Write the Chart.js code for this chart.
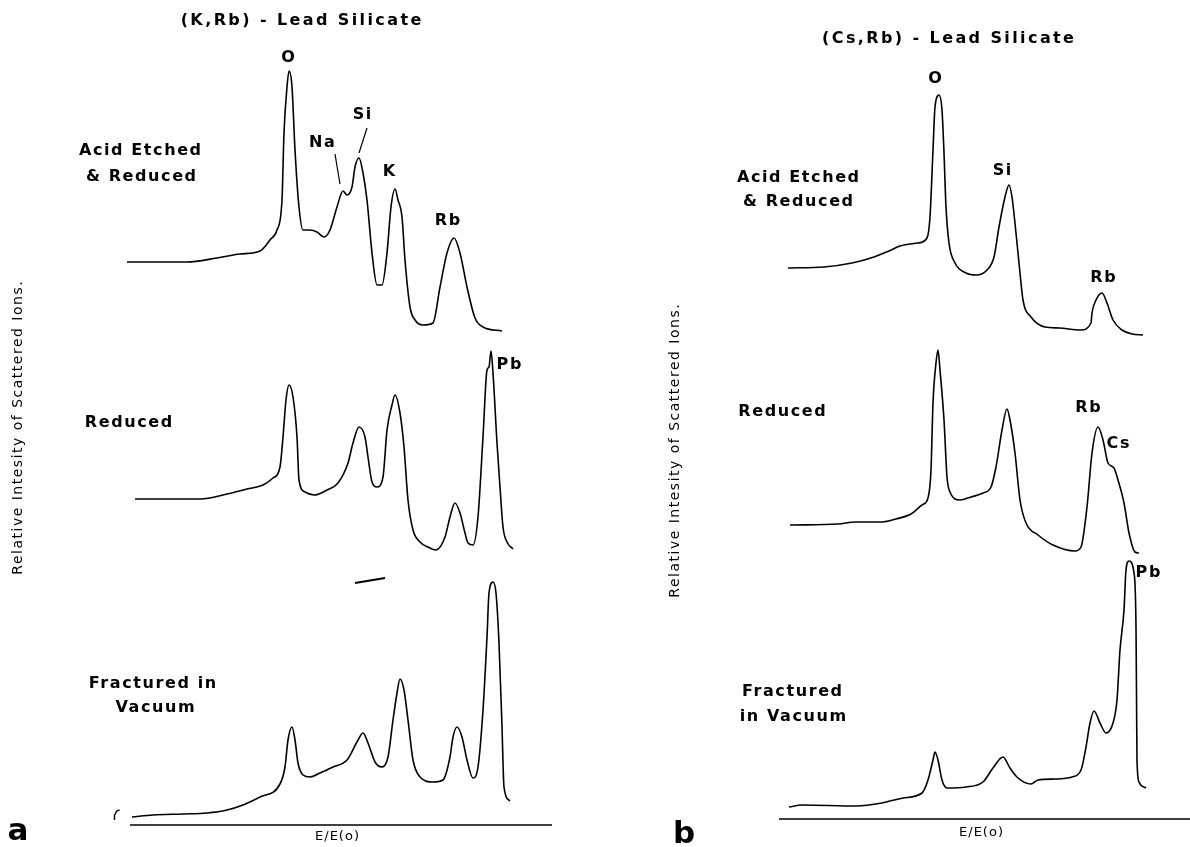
<!DOCTYPE html>
<html>
<head>
<meta charset="utf-8">
<title>Lead silicate ion scattering spectra</title>
<script src="https://cdn.jsdelivr.net/npm/chart.js@4.4.1/dist/chart.umd.min.js"></script>
<style>
  html, body { margin: 0; padding: 0; background: #fff; }
  #figure { position: relative; width: 1190px; height: 847px; }
  .panel { position: absolute; top: 0; width: 595px; height: 847px; }
</style>
</head>
<body>
<div id="figure">
  <div class="panel" style="left:0"><canvas id="panelA"></canvas></div>
  <div class="panel" style="left:595px"><canvas id="panelB"></canvas></div>
</div>
<script>
// ------------------------------------------------------------
// Spectra: [E/E(o) channel, stacked intensity]
// ------------------------------------------------------------

// (a) (K,Rb) - Lead Silicate
var acidEtchedA = [
    [-3, 563], [57, 563], [87, 567], [110, 571], [130, 574], [140, 585], [147, 595],
    [152, 625], [154, 692], [157, 738], [159, 754], [162, 738], [165, 675], [169, 618],
    [173, 595], [180, 595], [187, 593], [194, 588], [200, 595], [207, 618], [213, 634],
    [217, 630], [222, 638], [225, 658], [229, 667], [233, 652], [237, 625], [242, 572],
    [247, 540], [252, 540], [257, 572], [261, 618], [265, 636], [268, 625], [272, 608],
    [275, 565], [280, 518], [285, 505], [293, 500], [303, 502], [310, 538], [317, 572],
    [324, 587], [330, 572], [337, 538], [345, 507], [353, 498], [372, 494]
];
var reducedA = [
    [5, 326], [40, 326], [70, 326], [97, 331], [117, 336], [133, 340], [143, 347],
    [150, 358], [153, 388], [156, 425], [159, 440], [163, 428], [167, 388], [169, 345],
    [175, 333], [184, 330], [197, 335], [208, 342], [218, 362], [223, 382], [229, 398],
    [235, 388], [238, 368], [242, 343], [247, 338], [253, 348], [257, 395], [262, 420],
    [265, 430], [270, 412], [274, 378], [278, 325], [283, 295], [290, 283], [298, 278],
    [306, 275], [315, 288], [320, 308], [325, 322], [330, 312], [335, 292], [338, 282],
    [343, 280], [348, 308], [353, 388], [357, 455], [359, 458], [361, 474], [363, 452],
    [367, 382], [370, 338], [373, 298], [377, 283], [383, 276]
];
var fracturedA = [
    [2, 8], [23, 10], [53, 11], [77, 12], [97, 15], [113, 20], [130, 28], [150, 41],
    [155, 58], [158, 85], [162, 98], [165, 85], [168, 62], [173, 50], [180, 48],
    [190, 52], [203, 58], [217, 65], [227, 83], [233, 92], [238, 82], [245, 63],
    [252, 58], [258, 68], [263, 105], [267, 132], [270, 146], [274, 135], [278, 105],
    [283, 65], [290, 48], [303, 43], [313, 45], [320, 68], [323, 88], [327, 98],
    [332, 88], [337, 65], [343, 47], [348, 58], [353, 115], [357, 188], [359, 232],
    [363, 243], [366, 232], [369, 182], [372, 98], [374, 38], [380, 24]
];
// stray pen marks on the original plot
var bracketA = [[-10.5, 15], [-13.5, 13.5], [-15.5, 10], [-15.5, 5]];
var dashA = [[225, 242], [255, 247]];

// (b) (Cs,Rb) - Lead Silicate
var acidEtchedB = [
    [9, 551], [45, 552], [73, 556], [95, 562], [110, 568], [121, 573], [139, 576],
    [148, 581], [151, 602], [154, 669], [156, 712], [160, 724], [163, 709], [165, 666],
    [167, 612], [170, 576], [176, 556], [187, 546], [197, 544], [208, 549], [215, 562],
    [220, 592], [226, 622], [230, 634], [233, 622], [237, 586], [241, 546], [244, 519],
    [252, 502], [266, 492], [280, 491], [302, 489], [312, 496], [313, 506], [317, 519],
    [323, 526], [328, 516], [334, 499], [343, 489], [353, 485], [364, 484]
];
var reducedB = [
    [11, 294], [59, 295], [77, 297], [103, 297], [117, 300], [132, 305], [143, 314],
    [149, 321], [152, 349], [154, 416], [157, 456], [159, 469], [161, 449], [165, 399],
    [168, 342], [171, 327], [181, 319], [192, 322], [204, 326], [212, 332], [217, 352],
    [223, 389], [228, 410], [231, 399], [236, 366], [241, 319], [247, 296], [259, 284],
    [274, 274], [296, 268], [302, 272], [308, 312], [313, 366], [319, 392], [324, 379],
    [329, 356], [335, 351], [339, 339], [345, 316], [350, 286], [356, 267], [360, 266]
];
var fracturedB = [
    [10, 12], [23, 14], [77, 13], [103, 16], [124, 21], [143, 26], [149, 39], [154, 59],
    [156, 67], [159, 59], [163, 39], [168, 31], [187, 32], [204, 37], [214, 51],
    [224, 62], [231, 51], [239, 41], [252, 35], [259, 39], [277, 40], [293, 42],
    [302, 49], [307, 72], [311, 96], [315, 108], [321, 96], [327, 86], [334, 96],
    [338, 119], [341, 169], [345, 209], [347, 249], [350, 258], [355, 246], [357, 192],
    [357.5, 126], [358, 59], [360, 37], [367, 31]
];

// Text on the figure, anchored in data units: [text, channel, intensity]
var titleA = ['(K,Rb) - Lead Silicate', 171, 804];
var titleB = ['(Cs,Rb) - Lead Silicate', 169, 780];
var sampleLabelsA = [
    ['Acid Etched', 10, 674], ['& Reduced', 11, 648], ['Reduced', -1.5, 402],
    ['Fractured in', 22.5, 141], ['Vacuum', 25, 117]
];
var sampleLabelsB = [
    ['Acid Etched', 19, 641], ['& Reduced', 19, 617], ['Reduced', 3, 407],
    ['Fractured', 13, 127], ['in Vacuum', 14, 102]
];
var peakLabelsA = [
    ['O', 158, 767], ['Na', 192, 682], ['Si', 232, 710], ['K', 259, 653],
    ['Rb', 317.5, 604], ['Pb', 379, 460]
];
var peakLabelsB = [
    ['O', 156, 740], ['Si', 223, 648], ['Rb', 324, 541], ['Rb', 309, 411],
    ['Cs', 339, 375], ['Pb', 369, 246]
];
var leadersA = [[[205, 671], [210, 641]], [[237, 697], [229, 672]]];
var axisTitle = 'E/E(o)';
var yTitle = 'Relative Intesity of Scattered Ions.';

// ------------------------------------------------------------
// Drawing helpers
// ------------------------------------------------------------
var INK = '#000';
var BOLD = 'bold 16px "DejaVu Sans"';
var PLAIN = '13px "DejaVu Sans"';
var YFONT = '14px "DejaVu Sans"';

function putText(chart, text, x, y, font, spacing, rotate) {
    var ctx = chart.ctx;
    var px = chart.scales.x.getPixelForValue(x);
    var py = chart.scales.y.getPixelForValue(y);
    ctx.save();
    ctx.fillStyle = INK;
    ctx.font = font;
    ctx.letterSpacing = (spacing || 0) + 'px';
    ctx.textAlign = 'center';
    ctx.textBaseline = 'middle';
    ctx.translate(px, py);
    if (rotate) ctx.rotate(-Math.PI / 2);
    ctx.fillText(text, (spacing || 0) / 2, 0);
    ctx.restore();
}

function strokePath(chart, pts, width) {
    var ctx = chart.ctx, sx = chart.scales.x, sy = chart.scales.y;
    ctx.save();
    ctx.strokeStyle = INK;
    ctx.lineWidth = width;
    ctx.beginPath();
    pts.forEach(function (p, i) {
        var px = sx.getPixelForValue(p[0]), py = sy.getPixelForValue(p[1]);
        if (i === 0) ctx.moveTo(px, py); else ctx.lineTo(px, py);
    });
    ctx.stroke();
    ctx.restore();
}

// Draws the energy axis and all lettering once the traces are on the canvas
var figureText = {
    id: 'figureText',
    afterDatasetsDraw: function (chart, args, opts) {
        strokePath(chart, [[0, 0], [opts.axisEnd, 0]], 1.6);
        (opts.leaders || []).forEach(function (l) { strokePath(chart, l, 1.2); });
        putText(chart, opts.title[0], opts.title[1], opts.title[2], BOLD, 2.4);
        opts.samples.forEach(function (s) { putText(chart, s[0], s[1], s[2], BOLD, 1.6); });
        opts.peaks.forEach(function (s) { putText(chart, s[0], s[1], s[2], BOLD, 1.6); });
        putText(chart, axisTitle, opts.axisLabel[0], opts.axisLabel[1], PLAIN, 1);
        putText(chart, yTitle, opts.yLabel[0], opts.yLabel[1], YFONT, 1.5, true);
        putText(chart, opts.letter[0], opts.letter[1], opts.letter[2], 'bold 31px "DejaVu Sans"', 0);
    }
};

function trace(data, width) {
    return {
        data: data,
        borderColor: INK,
        borderWidth: width || 1.6,
        pointRadius: 0,
        fill: false,
        cubicInterpolationMode: 'monotone',
        clip: false
    };
}

function makePanel(canvasId, datasets, view, text) {
    return new Chart(document.getElementById(canvasId), {
        type: 'line',
        data: { datasets: datasets },
        options: {
            responsive: true,
            maintainAspectRatio: false,
            animation: false,
            events: [],
            layout: { padding: view.padding },
            scales: {
                x: { type: 'linear', min: view.x[0], max: view.x[1], display: false },
                y: { type: 'linear', min: view.y[0], max: view.y[1], display: false }
            },
            plugins: {
                legend: { display: false },
                tooltip: { enabled: false },
                figureText: text
            }
        },
        plugins: [figureText]
    });
}

makePanel('panelA',
    [trace(acidEtchedA), trace(reducedA), trace(fracturedA), trace(bracketA, 1.4), trace(dashA, 2)],
    { padding: { left: 110, right: 43, top: 25, bottom: 0 }, x: [-20, 422], y: [-22, 800] },
    {
        axisEnd: 422, title: titleA, samples: sampleLabelsA, peaks: peakLabelsA,
        leaders: leadersA, axisLabel: [207, -12], yLabel: [-112, 397], letter: ['a', -112, -7]
    });

makePanel('panelB',
    [trace(acidEtchedB), trace(reducedB), trace(fracturedB)],
    { padding: { left: 164, right: 0, top: 25, bottom: 0 }, x: [-20, 411], y: [-28, 794] },
    {
        axisEnd: 411, title: titleB, samples: sampleLabelsB, peaks: peakLabelsB,
        leaders: [], axisLabel: [202, -14], yLabel: [-104, 368], letter: ['b', -95, -16]
    });
</script>
</body>
</html>
